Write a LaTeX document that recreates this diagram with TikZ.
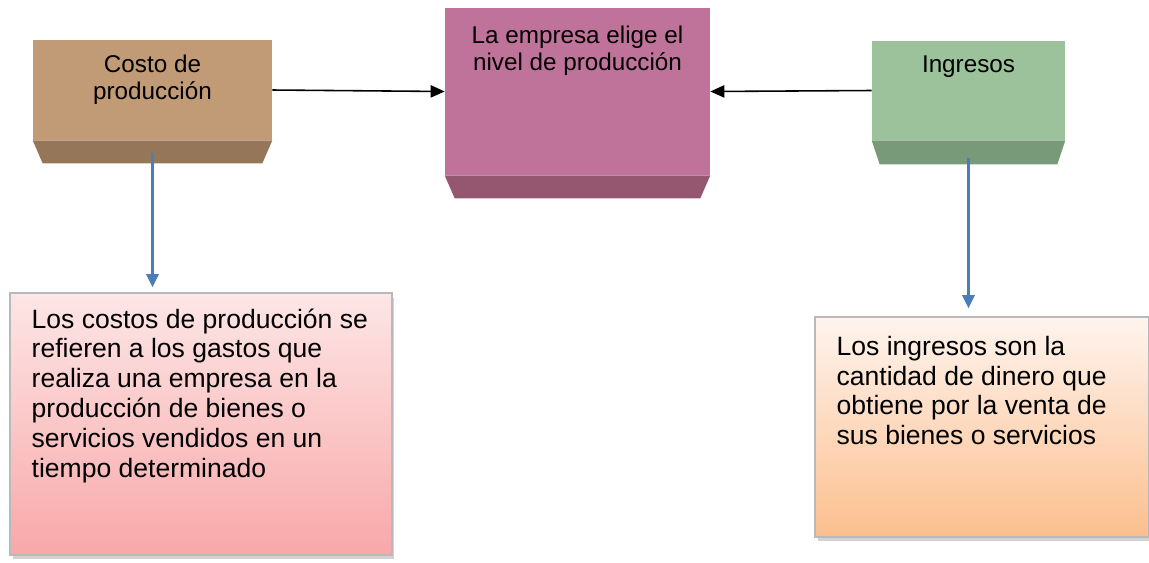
\documentclass[tikz,border=0pt]{standalone}
\usepackage{fontspec}
\setmainfont{Liberation Sans}
\usetikzlibrary{arrows.meta}

\definecolor{costoface}{HTML}{C19B76}
\definecolor{costodark}{HTML}{967659}
\definecolor{empresaface}{HTML}{C0739A}
\definecolor{empresadark}{HTML}{955770}
\definecolor{ingresoface}{HTML}{9BC29B}
\definecolor{ingresodark}{HTML}{789A78}
\definecolor{arrowblue}{HTML}{4A7EBB}
\definecolor{pinktop}{HTML}{FDE6E6}
\definecolor{pinkbot}{HTML}{F8A8A9}
\definecolor{peachtop}{HTML}{FEF4EE}
\definecolor{peachbot}{HTML}{FCBF8E}

\tikzset{
  topbox/.style={rectangle, inner sep=0pt},
  toptext/.style={anchor=north, align=center, inner sep=0pt,
    font=\fontsize{13.8}{15.5}\selectfont},
  descbox/.style={rectangle, inner sep=0pt, draw=gray!55, line width=0.8pt},
  desctext/.style={anchor=north west, align=left, inner sep=0pt,
    font=\fontsize{15.1}{17}\selectfont},
  blackarrow/.style={line width=0.9pt, -{Triangle[length=8pt,width=7pt]}},
  bluearrow/.style={arrowblue, line width=1.4pt, -{Triangle[length=7.5pt,width=7pt]}}
}

\begin{document}
\begin{tikzpicture}[x=0.02cm,y=-0.02cm]
\useasboundingbox (0,0) rectangle (1149,562);

% upper boxes
\node[topbox, fill=costoface, minimum width=4.78cm, minimum height=2cm,
  label={[toptext, yshift=-8.5pt]north:Costo de\\producción}] (costo) at (152.5,90) {};
\node[topbox, fill=empresaface, minimum width=5.3cm, minimum height=3.34cm,
  label={[toptext, yshift=-10pt]north:La empresa elige el\\nivel de producción}] (empresa) at (577.5,91.5) {};
\node[topbox, fill=ingresoface, minimum width=3.86cm, minimum height=1.98cm,
  label={[toptext, yshift=-8.5pt]north:Ingresos}] (ingresos) at (968.5,90.5) {};

% bevels
\fill[costodark] (costo.south west) -- (costo.south east) -- ([shift={(-10,23)}]costo.south east)
  -- ([shift={(10,23)}]costo.south west) -- cycle;
\fill[empresadark] (empresa.south west) -- (empresa.south east) -- ([shift={(-10,23)}]empresa.south east)
  -- ([shift={(10,23)}]empresa.south west) -- cycle;
\fill[ingresodark] (ingresos.south west) -- (ingresos.south east) -- ([shift={(-8,24)}]ingresos.south east)
  -- ([shift={(8,24)}]ingresos.south west) -- cycle;

% lower boxes
\fill[gray!35] (13,298) rectangle (394,559);
\node[descbox, top color=pinktop, bottom color=pinkbot, minimum width=7.64cm, minimum height=5.24cm,
  label={[desctext, xshift=0.44cm, yshift=-9pt]north west:Los costos de producción se\\refieren a los gastos que\\realiza una empresa en la\\producción de bienes o\\servicios vendidos en un\\tiempo determinado}] (costodesc) at (201,424) {};
\fill[gray!35] (818,322) rectangle (1149,541);
\node[descbox, top color=peachtop, bottom color=peachbot, minimum width=6.68cm, minimum height=4.4cm,
  label={[desctext, xshift=0.44cm, yshift=-11pt]north west:Los ingresos son la\\cantidad de dinero que\\obtiene por la venta de\\sus bienes o servicios}] (ingresosdesc) at (982,427) {};

% connectors
\draw[blackarrow] (costo.east) -- (empresa.west);
\draw[blackarrow] (ingresos.west) -- (empresa.east);
\draw[bluearrow, shorten <=0.26cm, shorten >=0.1cm] (costo.south) -- (costo.south |- costodesc.north);
\draw[bluearrow, shorten <=0.36cm, shorten >=0.16cm] (ingresos.south) -- (ingresos.south |- ingresosdesc.north);
\end{tikzpicture}
\end{document}
